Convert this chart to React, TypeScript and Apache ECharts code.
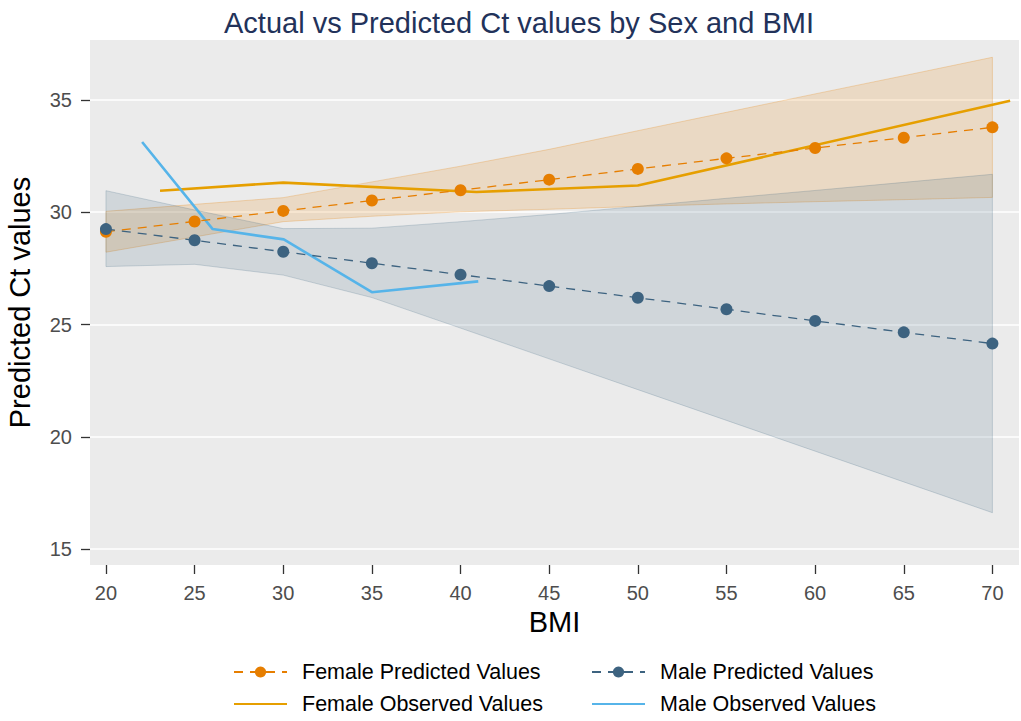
import React, { useEffect, useRef } from "react";
import * as echarts from "echarts";

const bmi = [20, 25, 30, 35, 40, 45, 50, 55, 60, 65, 70];
const femalePredicted = [29.13, 29.59, 30.06, 30.52, 30.98, 31.45, 31.93, 32.4, 32.86, 33.32, 33.78];
const malePredicted = [29.25, 28.75, 28.24, 27.73, 27.22, 26.71, 26.19, 25.68, 25.16, 24.65, 24.15];
const femaleUpper = [30.04, 30.35, 30.65, 31.35, 32.05, 32.8, 33.63, 34.45, 35.27, 36.08, 36.9];
const femaleLower = [28.22, 28.9, 29.58, 29.82, 30.02, 30.13, 30.26, 30.37, 30.47, 30.56, 30.66];
const maleUpper = [30.96, 30.1, 29.27, 29.29, 29.58, 29.9, 30.26, 30.62, 30.97, 31.33, 31.69];
const maleLower = [27.58, 27.68, 27.2, 26.2, 24.84, 23.47, 22.1, 20.73, 19.36, 17.99, 16.62];

const femaleObsBmi = [23.05, 30, 40.9, 50, 71];
const femaleObs = [30.96, 31.32, 30.9, 31.19, 34.96];
const maleObsBmi = [22.04, 26.02, 30.03, 35.0, 41.0];
const maleObs = [33.13, 29.25, 28.79, 26.44, 26.92];

const xTicks = [20, 25, 30, 35, 40, 45, 50, 55, 60, 65, 70];
const yTicks = [15, 20, 25, 30, 35];

const FONT = '"Liberation Sans", Arial, Helvetica, sans-serif';
const C_FP = "#E67E00";
const C_MP = "#3D6380";
const C_FO = "#E69F00";
const C_MO = "#56B4E9";

function bandSeries(name: string, lo: number[], hi: number[], fill: string, stroke: string) {
  return {
    name,
    type: "custom",
    silent: true,
    z: 2,
    data: bmi.map((x, i) => [x, lo[i], hi[i]]),
    encode: { x: 0, y: [1, 2] },
    renderItem: (params: any, api: any) => {
      if (params.dataIndex !== 0) return null;
      const pts: number[][] = [];
      for (let i = 0; i < bmi.length; i++) pts.push(api.coord([bmi[i], hi[i]]));
      for (let i = bmi.length - 1; i >= 0; i--) pts.push(api.coord([bmi[i], lo[i]]));
      return {
        type: "polygon",
        shape: { points: pts },
        style: { fill, stroke, lineWidth: 1 },
      };
    },
  };
}

const hiddenDot = { color: "rgba(0,0,0,0)", borderWidth: 0, opacity: 0 };

export default function App() {
  const ref = useRef<HTMLDivElement>(null);
  useEffect(() => {
    if (!ref.current) return;
    const chart = echarts.init(ref.current, undefined, { renderer: "svg" });
    const legendText = { fontFamily: FONT, fontSize: 21.5, color: "#000", padding: [0, 0, 0, 10] };
    const option: any = {
      animation: false,
      backgroundColor: "#ffffff",
      textStyle: { fontFamily: FONT },
      title: {
        text: "Actual vs Predicted Ct values by Sex and BMI",
        left: 219,
        top: 3,
        textStyle: { fontFamily: FONT, fontSize: 29, fontWeight: "normal", color: "#22325A" },
      },
      grid: {
        left: 90,
        right: 2,
        top: 40,
        bottom: 156,
        show: true,
        backgroundColor: "#EBEBEB",
        borderWidth: 0,
        containLabel: false,
        outerBoundsMode: "none",
      },
      legend: [
        {
          orient: "vertical",
          left: 233,
          top: 661,
          padding: 0,
          itemWidth: 53,
          itemHeight: 14,
          itemGap: 10,
          data: [
            { name: "Female Predicted Values" },
            { name: "Female Observed Values", itemStyle: hiddenDot },
          ],
          textStyle: legendText,
        },
        {
          orient: "vertical",
          left: 591,
          top: 661,
          padding: 0,
          itemWidth: 53,
          itemHeight: 14,
          itemGap: 10,
          data: [
            { name: "Male Predicted Values" },
            { name: "Male Observed Values", itemStyle: hiddenDot },
          ],
          textStyle: legendText,
        },
      ],
      xAxis: {
        type: "value",
        min: 19.1,
        max: 71.5,
        splitLine: { show: false },
        axisLine: { show: false },
        axisTick: { show: true, customValues: xTicks, length: 9, lineStyle: { color: "#333", width: 1.3 } },
        axisLabel: { customValues: xTicks, fontFamily: FONT, fontSize: 20, color: "#4D4D4D", margin: 18 },
        name: "BMI",
        nameLocation: "middle",
        nameGap: 38,
        nameTextStyle: { fontFamily: FONT, fontSize: 29, color: "#000" },
      },
      yAxis: {
        type: "value",
        min: 14.29,
        max: 37.67,
        splitLine: { show: false },
        axisLine: { show: false },
        axisTick: { show: true, customValues: yTicks, length: 9, lineStyle: { color: "#333", width: 1.3 } },
        axisLabel: { customValues: yTicks, fontFamily: FONT, fontSize: 20, color: "#4D4D4D", margin: 18 },
        name: "Predicted Ct values",
        nameLocation: "middle",
        nameGap: 56,
        nameTextStyle: { fontFamily: FONT, fontSize: 29, color: "#000" },
      },
      series: [
        {
          name: "gridlines",
          type: "line",
          data: [],
          silent: true,
          markLine: {
            silent: true,
            z: 1,
            symbol: "none",
            label: { show: false },
            lineStyle: { color: "#ffffff", width: 1.6, type: "solid" },
            data: yTicks.map((v) => ({ yAxis: v })),
          },
        },
        bandSeries("Female band", femaleLower, femaleUpper, "rgba(230,126,0,0.165)", "rgba(230,126,0,0.25)"),
        bandSeries("Male band", maleLower, maleUpper, "rgba(61,99,128,0.155)", "rgba(61,99,128,0.22)"),
        {
          name: "Female Observed Values",
          type: "line",
          z: 3,
          showSymbol: false,
          symbol: "none",
          data: femaleObsBmi.map((x, i) => [x, femaleObs[i]]),
          lineStyle: { color: C_FO, width: 2.6 },
          itemStyle: { color: C_FO },
        },
        {
          name: "Male Observed Values",
          type: "line",
          z: 3,
          showSymbol: false,
          symbol: "none",
          data: maleObsBmi.map((x, i) => [x, maleObs[i]]),
          lineStyle: { color: C_MO, width: 2.6 },
          itemStyle: { color: C_MO },
        },
        {
          name: "Female Predicted Values",
          type: "line",
          z: 4,
          symbol: "circle",
          symbolSize: 12,
          data: bmi.map((x, i) => [x, femalePredicted[i]]),
          lineStyle: { color: C_FP, width: 1.3, type: [9, 7] },
          itemStyle: { color: C_FP },
        },
        {
          name: "Male Predicted Values",
          type: "line",
          z: 5,
          symbol: "circle",
          symbolSize: 12,
          data: bmi.map((x, i) => [x, malePredicted[i]]),
          lineStyle: { color: C_MP, width: 1.3, type: [9, 7] },
          itemStyle: { color: C_MP },
        },
      ],
    };
    chart.setOption(option);
    return () => chart.dispose();
  }, []);
  return (
    <div
      ref={ref}
      style={{ position: "fixed", left: 0, top: 0, width: 1021, height: 721, background: "#fff" }}
    />
  );
}
